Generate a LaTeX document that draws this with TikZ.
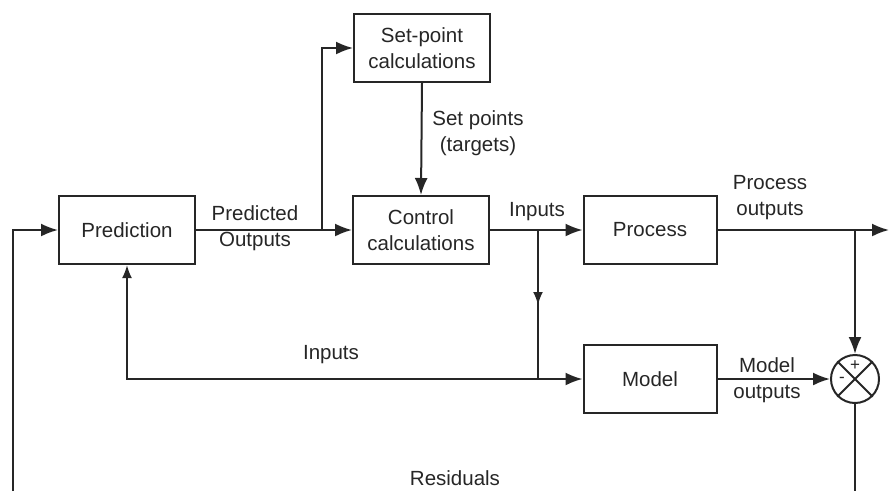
\documentclass[tikz,border=0pt]{standalone}
\usepackage{fontspec}
\setmainfont{Liberation Sans}
\usetikzlibrary{arrows.meta}
\definecolor{ink}{HTML}{262626}
\begin{document}
\begin{tikzpicture}[x=1pt,y=-1pt,
  every node/.style={font=\fontsize{20.5}{26}\selectfont, text=ink},
  blk/.style={draw=ink, line width=2pt, minimum width=136pt, minimum height=68pt, align=center, inner sep=0pt},
  lbl/.style={align=center, inner sep=0pt},
  wire/.style={draw=ink, line width=2pt},
  arr/.style={wire, -{Latex[length=17pt,width=13pt]}},
  smallarr/.style={wire, -{Latex[length=13pt,width=10pt]}}]
\useasboundingbox (0,0) rectangle (889,491);
\node[blk] (pred) at (127,230) {Prediction};
\node[blk] (ctrl) at (421,230) {Control\\calculations};
\node[blk] (setp) at (422,48) {Set-point\\calculations};
\node[blk, minimum width=133pt] (proc) at (650,230) {Process};
\node[blk, minimum width=133pt] (model) at (650,379) {Model};
\node[draw=ink, line width=2pt, circle, minimum size=48pt, inner sep=0pt] (sum) at (855,379) {};
\draw[wire] (sum.45) -- (sum.225) (sum.135) -- (sum.315);
\node[font=\fontsize{17}{17}\selectfont] at (855,366) {+};
\node[font=\fontsize{17}{17}\selectfont] at (842,380) {-};

\coordinate (lb) at (13,491);
\coordinate (rb) at (855,491);
\coordinate (rend) at (889,230);
\coordinate (b1) at (322,230);
\coordinate (b2) at (538,230);
\coordinate (b2m) at (538,305);
\coordinate (b2d) at (538,379);
\coordinate (pl) at (127,379);
\coordinate (b3) at (855,230);

\draw[arr] (lb) |- (pred.west);
\draw[arr] (pred.east) -- (ctrl.west);
\draw[arr] (b1) |- (setp.west);
\draw[arr] (setp.south) -- (ctrl.north);
\draw[arr] (ctrl.east) -- (proc.west);
\draw[wire] (b2) -- (b2d);
\draw[smallarr] (b2) -- (b2m);
\draw[arr] (b2d) -- (model.west);
\draw[smallarr] (b2d) -- (pl) -- (pred.south);
\draw[arr] (proc.east) -- (rend);
\draw[arr] (b3) -- (sum.north);
\draw[arr] (model.east) -- (sum.west);
\draw[wire] (sum.south) -- (rb);

\node[lbl] at (255,228) {Predicted\\Outputs};
\node[lbl] at (478,133) {Set points\\(targets)};
\node[lbl] at (537,212) {Inputs};
\node[lbl] at (770,198) {Process\\outputs};
\node[lbl] at (331,355) {Inputs};
\node[lbl] at (767,380) {Model\\outputs};
\node[lbl] at (455,478) {Residuals};
\end{tikzpicture}
\end{document}
